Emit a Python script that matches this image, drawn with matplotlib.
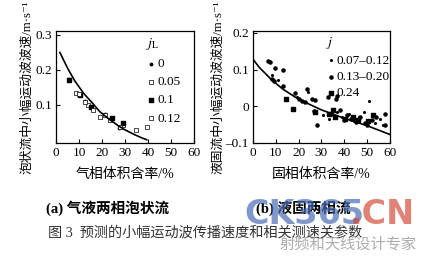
import matplotlib.pyplot as plt

plt.rcParams['font.family'] = ['Liberation Serif', 'Noto Sans CJK SC', 'DejaVu Sans']
plt.rcParams['mathtext.fontset'] = 'stix'

# (a) gas-liquid bubbly flow
fit_a_x = [1.7, 5, 8, 12, 16, 19, 23, 27, 30, 34, 37, 39.4]
fit_a_y = [0.249, 0.205, 0.170, 0.133, 0.104, 0.081, 0.060, 0.041, 0.029, 0.016, 0.007, 0.001]
a_jl0_x = [5.5, 12.8, 21.5, 27.5]
a_jl0_y = [0.175, 0.112, 0.073, 0.034]
a_jl005_x = [8.7, 14.0, 19.1, 23.5, 29.3, 34.6]
a_jl005_y = [0.133, 0.100, 0.067, 0.057, 0.043, 0.029]
a_jl01_x = [5.8, 10.5, 15.0, 24.5, 29.3]
a_jl01_y = [0.170, 0.128, 0.095, 0.062, 0.050]
a_jl012_x = [10.1, 12.6, 16.2, 21.3, 27.8, 39.4]
a_jl012_y = [0.131, 0.107, 0.086, 0.071, 0.036, 0.038]
jl_labels = ['0', '0.05', '0.1', '0.12']

# (b) liquid-solid flow
fit_b_x = [0, 3, 5, 8, 13, 20, 30, 40, 50, 60]
fit_b_y = [0.128, 0.104, 0.092, 0.073, 0.047, 0.019, -0.010, -0.033, -0.053, -0.077]
b_j1_x = [8.5, 11.0, 19.5, 24.0, 30.5, 33.5, 37.0, 39.0, 42.0, 44.5, 46.5, 48.5, 51.0, 53.5, 55.5, 57.0]
b_j1_y = [0.085, 0.072, 0.025, 0.040, -0.025, -0.035, -0.015, -0.030, -0.020, -0.040, -0.030, -0.015, 0.015, -0.045, -0.035, -0.050]
b_j2_x = [6.7, 7.4, 9.6, 13.0, 8.2, 9.3, 13.0, 18.5, 20.0, 21.5, 23.0, 23.7, 25.8, 27.3, 26.6, 28.2,
          33.0, 34.0, 36.5, 37.0, 38.0, 40.0, 41.0, 43.0, 45.0, 47.0, 49.0, 50.0, 52.0, 54.0, 58.0, 58.0]
b_j2_y = [0.124, 0.121, 0.105, 0.100, 0.075, 0.070, 0.054, 0.036, 0.021, 0.015, 0.012, 0.046, 0.020, 0.018,
          -0.012, -0.050, 0.025, -0.020, 0.019, 0.028, -0.010, -0.038, -0.025, -0.035, -0.042, -0.030,
          -0.045, -0.050, -0.038, -0.030, -0.020, -0.050]
b_j3_x = [14.5, 17.4, 27.0, 33.5, 35.0, 36.0, 40.5, 44.0, 46.0, 50.5, 52.5]
b_j3_y = [0.020, -0.008, -0.015, -0.020, -0.010, -0.028, -0.035, -0.030, -0.038, -0.040, -0.025]
j_labels = ['0.07\u20130.12', '0.13\u20130.20', '0.24']

fig = plt.figure(figsize=(4.21, 2.57), dpi=100)
ax1 = fig.add_axes([0.133, 0.444, 0.328, 0.435])
ax2 = fig.add_axes([0.601, 0.444, 0.325, 0.435])

ax1.plot(fit_a_x, fit_a_y, color='black', lw=1.2)
ax1.scatter(a_jl0_x, a_jl0_y, s=3, color='black', label=jl_labels[0])
ax1.scatter(a_jl005_x, a_jl005_y, s=6, marker='s', facecolor='white', edgecolor='black', lw=0.5, label=jl_labels[1])
ax1.scatter(a_jl01_x, a_jl01_y, s=5, marker='s', color='black', label=jl_labels[2])
ax1.scatter(a_jl012_x, a_jl012_y, s=9, marker='s', facecolor='white', edgecolor='black', lw=0.5, label=jl_labels[3])
ax1.set_xlim(0, 60)
ax1.set_ylim(-0.008, 0.31)
ax1.set_xticks([0, 10, 20, 30, 40, 50, 60])
ax1.set_yticks([0.1, 0.2, 0.3])
ax1.set_yticklabels(['0.1', '0.2', '0.3'])
ax1.legend(title='$j_\\mathrm{L}$', loc='upper right', bbox_to_anchor=(0.97, 1.04), frameon=False,
           fontsize=9.5, title_fontsize=10, handletextpad=0.05, labelspacing=0.45, borderpad=0.2,
           handlelength=0.8, alignment='left')
ax1.set_xlabel('气相体积含率/%', fontsize=10, labelpad=6)
ax1.set_ylabel('泡状流中小幅运动波波速/m·s⁻¹', fontsize=9.2, labelpad=1)

ax2.plot(fit_b_x, fit_b_y, color='black', lw=1.2)
ax2.scatter(b_j1_x, b_j1_y, s=1.5, color='black', label=j_labels[0])
ax2.scatter(b_j2_x, b_j2_y, s=5, color='black', label=j_labels[1])
ax2.scatter(b_j3_x, b_j3_y, s=8, marker='s', color='black', label=j_labels[2])
ax2.set_xlim(0, 60)
ax2.set_ylim(-0.1, 0.205)
ax2.set_xticks([0, 10, 20, 30, 40, 50, 60])
ax2.set_yticks([-0.1, 0, 0.1, 0.2])
ax2.set_yticklabels(['\u20130.1', '0', '0.1', '0.2'])
ax2.legend(title='$j$', loc='upper right', bbox_to_anchor=(1.07, 1.05), frameon=False,
           fontsize=9.5, title_fontsize=10, handletextpad=0.05, labelspacing=0.3, borderpad=0.2,
           handlelength=0.8, alignment='left')
ax2.set_xlabel('固相体积含率/%', fontsize=10, labelpad=6)
ax2.set_ylabel('液固流中小幅运动波波速/m·s⁻¹', fontsize=9.2, labelpad=1)

for ax in (ax1, ax2):
    ax.tick_params(direction='in', length=3, width=0.8, labelsize=9.5, pad=3)
    for sp in ax.spines.values():
        sp.set_linewidth(0.9)

fig.text(0.255, 0.19, '(a) 气液两相泡状流', fontsize=10.5, ha='center', va='center', fontweight='bold')
fig.text(0.72, 0.19, '(b) 液固两相流', fontsize=10.5, ha='center', va='center', fontweight='bold')
fig.text(0.114, 0.094, '图 3  预测的小幅运动波传播速度和相关测速关参数', fontsize=10.2, ha='left', va='center',
         color='#333333')

# watermark
fig.text(0.58, 0.165, 'CK365', fontsize=24, fontweight='bold', color='#4a6db5', alpha=0.7,
         ha='left', va='center', family='DejaVu Sans')
fig.text(0.83, 0.165, '.CN', fontsize=24, fontweight='bold', color='#d0402a', alpha=0.65,
         ha='left', va='center', family='DejaVu Sans')
fig.text(0.99, 0.05, '射频和天线设计专家', fontsize=11, color='#999999', alpha=0.8, ha='right', va='center',
         family='Noto Sans CJK SC')

fig.savefig('out.png', dpi=100)
